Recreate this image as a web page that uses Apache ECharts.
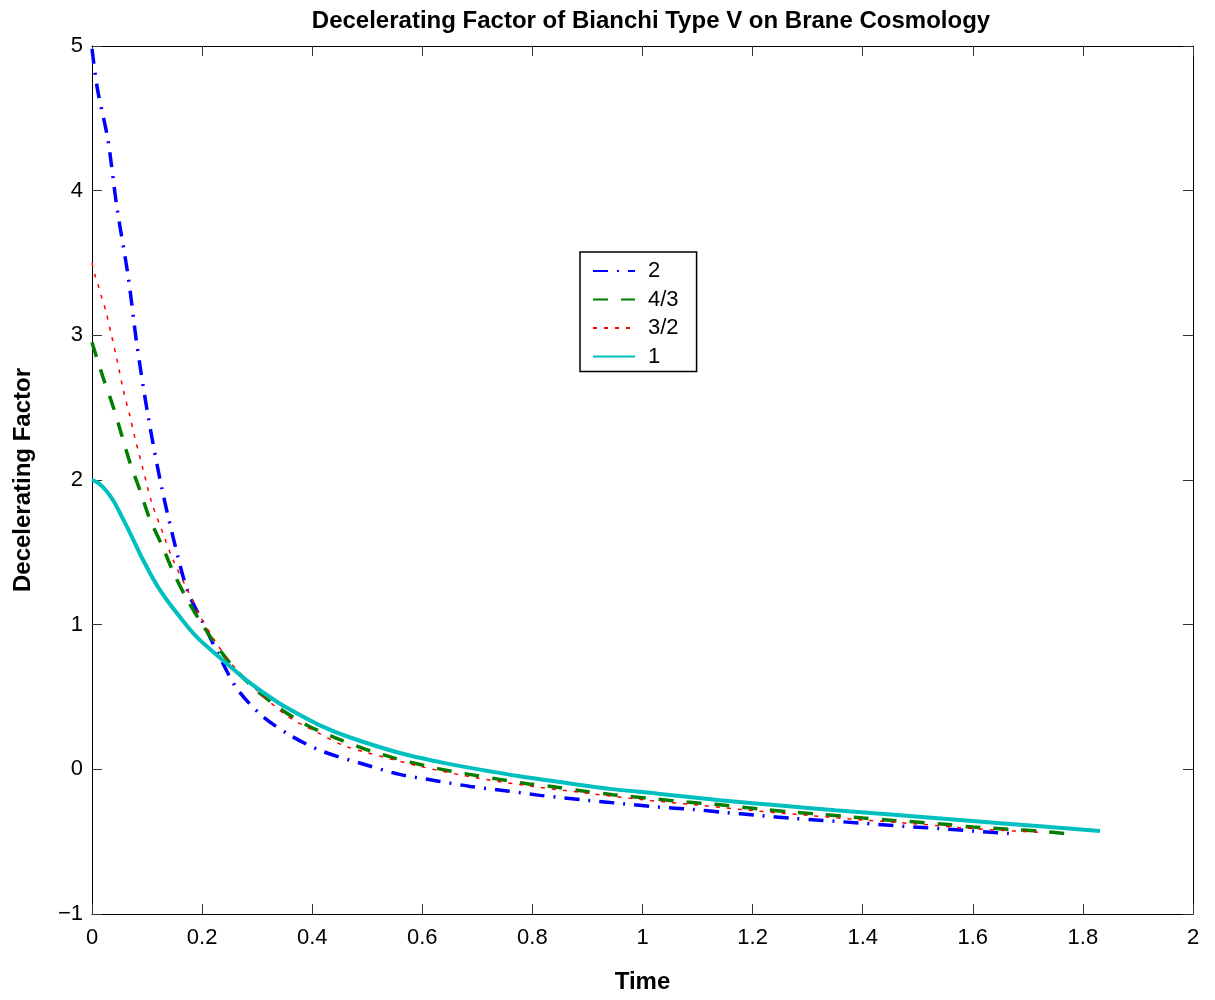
<!DOCTYPE html>
<html>
<head>
<meta charset="utf-8">
<script src="https://cdn.jsdelivr.net/npm/echarts@6/dist/echarts.min.js"></script>
<style>
  html, body { margin: 0; padding: 0; background: #ffffff; }
  #chart { width: 1215px; height: 1000px; }
</style>
</head>
<body>
<div id="chart"></div>
<script>
// Series names (legend)
const seriesNames = ['2', '4/3', '3/2', '1'];

// Series "2" (blue dash-dot)
const tBlue = [0, 0.01, 0.029, 0.045, 0.066, 0.081, 0.102, 0.127, 0.156, 0.174, 0.202, 0.229, 0.263, 0.308, 0.36, 0.417, 0.5, 0.559, 0.627, 0.687, 0.754, 0.814, 0.899, 0.963, 1.026, 1.092, 1.146, 1.21, 1.274, 1.328, 1.393, 1.477, 1.54, 1.6, 1.664, 1.677];
const qBlue = [4.98, 4.7, 4.35, 3.89, 3.40, 2.95, 2.44, 1.94, 1.47, 1.23, 1.01, 0.80, 0.56, 0.373, 0.235, 0.127, 0.028, -0.035, -0.08, -0.118, -0.15, -0.18, -0.214, -0.237, -0.26, -0.277, -0.297, -0.318, -0.339, -0.353, -0.371, -0.394, -0.41, -0.426, -0.443, -0.45];

// Series "4/3" (green dashed)
const tGreen = [0, 0.02, 0.039, 0.054, 0.069, 0.087, 0.105, 0.127, 0.148, 0.172, 0.199, 0.229, 0.265, 0.299, 0.345, 0.393, 0.441, 0.492, 0.545, 0.578, 0.629, 0.683, 0.735, 0.79, 0.841, 0.892, 0.946, 1.028, 1.08, 1.132, 1.219, 1.27, 1.326, 1.401, 1.455, 1.55, 1.6, 1.671, 1.725, 1.771];
const qGreen = [2.95, 2.71, 2.50, 2.31, 2.12, 1.93, 1.73, 1.55, 1.36, 1.18, 1.01, 0.84, 0.67, 0.546, 0.41, 0.30, 0.22, 0.145, 0.083, 0.05, 0.005, -0.033, -0.066, -0.099, -0.122, -0.15, -0.175, -0.207, -0.226, -0.242, -0.277, -0.295, -0.311, -0.337, -0.353, -0.38, -0.399, -0.415, -0.429, -0.445];

// Series "3/2" (red dotted)
const tRed = [0, 0.005, 0.011, 0.017, 0.025, 0.036, 0.045, 0.057, 0.069, 0.078, 0.093, 0.108, 0.129, 0.147, 0.172, 0.196, 0.223, 0.251, 0.293, 0.354, 0.408, 0.456, 0.5, 0.6, 0.7, 0.8, 0.9, 1.0, 1.1, 1.2, 1.3, 1.4, 1.5, 1.6, 1.73];
const qRed = [3.5, 3.42, 3.35, 3.27, 3.17, 2.99, 2.84, 2.62, 2.44, 2.29, 2.07, 1.85, 1.63, 1.45, 1.25, 1.06, 0.89, 0.74, 0.57, 0.37, 0.258, 0.166, 0.115, 0.017, -0.06, -0.118, -0.165, -0.21, -0.247, -0.285, -0.318, -0.35, -0.378, -0.41, -0.437];

// Series "1" (cyan solid)
const tCyan = [0, 0.013, 0.027, 0.04, 0.051, 0.069, 0.093, 0.12, 0.154, 0.19, 0.233, 0.281, 0.323, 0.354, 0.414, 0.469, 0.559, 0.632, 0.705, 0.777, 0.85, 0.94, 1.028, 1.141, 1.25, 1.35, 1.468, 1.65, 1.831];
const qCyan = [2.0, 1.975, 1.92, 1.85, 1.77, 1.635, 1.445, 1.26, 1.08, 0.915, 0.77, 0.615, 0.50, 0.425, 0.304, 0.22, 0.113, 0.05, -0.002, -0.048, -0.088, -0.135, -0.168, -0.214, -0.25, -0.283, -0.318, -0.372, -0.426];

const zip = (t, q) => t.map((v, i) => [v, q[i]]);

const FONT = '"Liberation Sans", Arial, Helvetica, sans-serif';
const fmtX = v => String(+v.toFixed(1));
const fmtY = v => (v < 0 ? '\u2212' + Math.abs(v) : String(v));

const chart = echarts.init(document.getElementById('chart'), null, { renderer: 'canvas' });

const axisCommon = {
  axisLine: { show: true, onZero: false, lineStyle: { color: '#000', width: 1 } },
  axisTick: { show: true, inside: true, length: 10, lineStyle: { color: '#333', width: 1 } },
  splitLine: { show: false }
};

chart.setOption({
  backgroundColor: '#ffffff',
  animation: false,
  title: {
    text: 'Decelerating Factor of Bianchi Type V on Brane Cosmology',
    left: 646,
    top: 4,
    textAlign: 'center',
    textStyle: { fontFamily: FONT, fontSize: 24, fontWeight: 'bold', color: '#000' }
  },
  legend: {
    orient: 'vertical',
    left: 580,
    top: 252,
    padding: [8, 18, 4, 12],
    itemGap: 6.5,
    itemWidth: 42,
    itemHeight: 14,
    borderColor: '#000',
    borderWidth: 1.5,
    backgroundColor: '#fff',
    itemStyle: { opacity: 0 },
    textStyle: { fontFamily: FONT, fontSize: 22, color: '#000', padding: [0, 0, 0, 8] },
    data: seriesNames
  },
  grid: { left: 92, right: 22, top: 46, bottom: 86, containLabel: false },
  xAxis: [
    Object.assign({
      type: 'value', min: 0, max: 2, interval: 0.2, position: 'bottom',
      name: 'Time', nameLocation: 'middle', nameGap: 56,
      nameTextStyle: { fontFamily: FONT, fontSize: 24, fontWeight: 'bold', color: '#000' },
      axisLabel: { fontFamily: FONT, fontSize: 22, color: '#000', margin: 13, formatter: fmtX }
    }, axisCommon),
    Object.assign({
      type: 'value', min: 0, max: 2, interval: 0.2, position: 'top',
      axisLabel: { show: false }
    }, axisCommon)
  ],
  yAxis: [
    Object.assign({
      type: 'value', min: -1, max: 5, interval: 1, position: 'left',
      name: 'Decelerating Factor', nameLocation: 'middle', nameGap: 57, nameRotate: 90,
      nameTextStyle: { fontFamily: FONT, fontSize: 24, fontWeight: 'bold', color: '#000' },
      axisLabel: { fontFamily: FONT, fontSize: 22, color: '#000', margin: 9, formatter: fmtY }
    }, axisCommon),
    Object.assign({
      type: 'value', min: -1, max: 5, interval: 1, position: 'right',
      axisLabel: { show: false }
    }, axisCommon)
  ],
  series: [
    {
      name: seriesNames[0], type: 'line', data: zip(tBlue, qBlue),
      showSymbol: false, symbol: 'none', smooth: 0.3,
      lineStyle: { color: '#0000ff', width: 3.5, type: [15, 9, 2, 9] },
      itemStyle: { color: '#0000ff' }
    },
    {
      name: seriesNames[1], type: 'line', data: zip(tGreen, qGreen),
      showSymbol: false, symbol: 'none', smooth: 0.3,
      lineStyle: { color: '#007f00', width: 3.5, type: [15, 13] },
      itemStyle: { color: '#007f00' }
    },
    {
      name: seriesNames[2], type: 'line', data: zip(tRed, qRed),
      showSymbol: false, symbol: 'none', smooth: 0.3,
      lineStyle: { color: '#ff0000', width: 1.5, type: [4, 7] },
      itemStyle: { color: '#ff0000' }
    },
    {
      name: seriesNames[3], type: 'line', data: zip(tCyan, qCyan),
      showSymbol: false, symbol: 'none', smooth: 0.3,
      lineStyle: { color: '#00bfbf', width: 4 },
      itemStyle: { color: '#00bfbf' }
    }
  ]
});
</script>
</body>
</html>
